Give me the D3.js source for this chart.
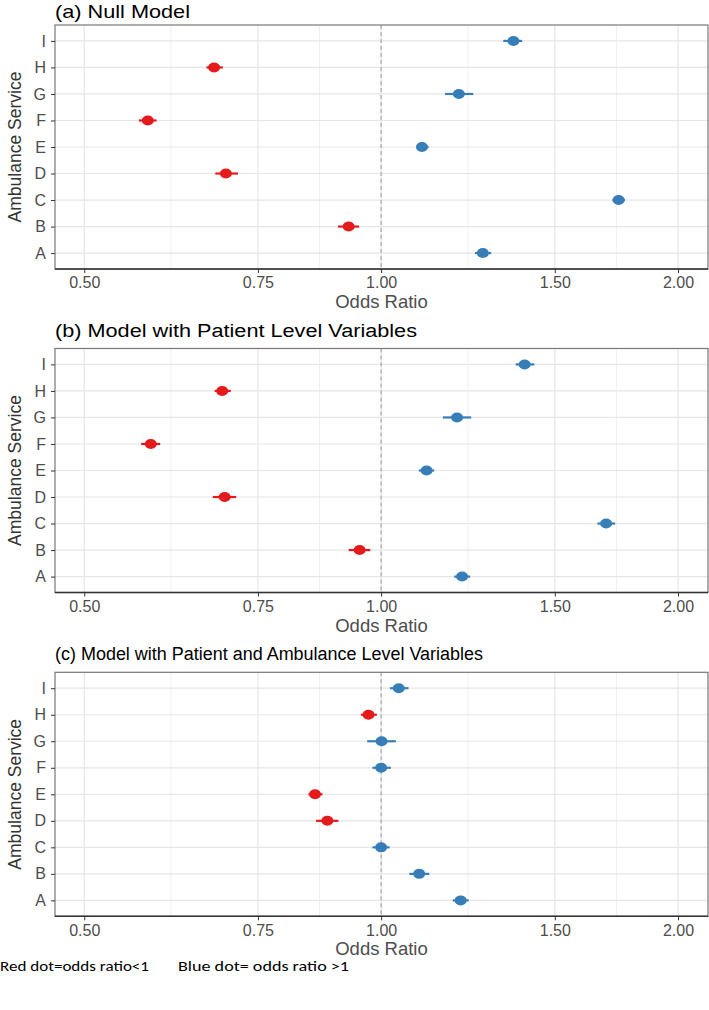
<!DOCTYPE html>
<html>
<head>
<meta charset="utf-8">
<script src="https://cdn.jsdelivr.net/npm/d3@7"></script>
<style>
  html, body { margin: 0; padding: 0; background: #fff; }
  svg { display: block; font-family: "Liberation Sans", Arial, sans-serif; }
</style>
</head>
<body>
<script>
// ---------------- data ----------------
const categories = ["A", "B", "C", "D", "E", "F", "G", "H", "I"];
const panelTitles = [
  "(a) Null Model",
  "(b) Model with Patient Level Variables",
  "(c) Model with Patient and Ambulance Level Variables"
];
const xTickValues = [0.5, 0.75, 1.0, 1.5, 2.0];
const xTickLabels = ["0.50", "0.75", "1.00", "1.50", "2.00"];
const xMinorValues = [0.612, 0.866, 1.225, 1.732];

// (a) Null model, ordered A..I
const nullOR = [1.268, 0.927, 1.741, 0.696, 1.100, 0.580, 1.199, 0.677, 1.362];
const nullLo = [1.245, 0.904, 1.716, 0.679, 1.087, 0.568, 1.161, 0.665, 1.330];
const nullHi = [1.293, 0.950, 1.767, 0.716, 1.117, 0.592, 1.240, 0.691, 1.390];

// (b) Patient level
const patientOR = [1.208, 0.951, 1.691, 0.694, 1.112, 0.584, 1.194, 0.690, 1.398];
const patientLo = [1.186, 0.927, 1.657, 0.675, 1.092, 0.571, 1.155, 0.678, 1.369];
const patientHi = [1.231, 0.975, 1.727, 0.713, 1.132, 0.597, 1.234, 0.704, 1.430];

// (c) Patient and ambulance level
const ambulanceOR = [1.204, 1.093, 1.000, 0.882, 0.857, 1.000, 1.001, 0.971, 1.042];
const ambulanceLo = [1.182, 1.068, 0.980, 0.859, 0.844, 0.980, 0.968, 0.954, 1.021];
const ambulanceHi = [1.227, 1.119, 1.020, 0.905, 0.872, 1.023, 1.035, 0.990, 1.066];

const footnoteLeft = "Red dot=odds ratio<1";
const footnoteRight = "Blue dot= odds ratio >1";

// ---------------- layout ----------------
const W = 709, H = 1010;
const left = 55, right = 708, panelH = 244;
const panelTops = [25, 348.5, 672.3];
const titleWidths = [135, 362, 428];
const titleSizes = [19, 18, 18];
const RED = "#E41A1C", BLUE = "#377EB8";

const panels = [
  { or: nullOR, lo: nullLo, hi: nullHi },
  { or: patientOR, lo: patientLo, hi: patientHi },
  { or: ambulanceOR, lo: ambulanceLo, hi: ambulanceHi }
];

const svg = d3.select("body").append("svg")
  .attr("width", W).attr("height", H)
  .attr("viewBox", `0 0 ${W} ${H}`);
svg.append("rect").attr("width", W).attr("height", H).attr("fill", "#fff");

const x = d3.scaleLog().domain([0.467, 2.145]).range([left, right]);

panels.forEach((p, pi) => {
  const top = panelTops[pi];
  const bottom = top + panelH;
  const y = d3.scalePoint().domain(categories).range([bottom, top]).padding(0.6);
  const rows = categories.map((c, i) => ({ cat: c, or: p.or[i], lo: p.lo[i], hi: p.hi[i] }));
  const g = svg.append("g");

  // title
  g.append("text")
    .attr("x", left).attr("y", pi === 0 ? 18 : top - 12)
    .attr("font-size", titleSizes[pi]).attr("fill", "#000")
    .attr("textLength", titleWidths[pi]).attr("lengthAdjust", "spacingAndGlyphs")
    .text(panelTitles[pi]);

  // minor grid
  g.selectAll(".minor").data(xMinorValues).join("line")
    .attr("x1", d => x(d)).attr("x2", d => x(d))
    .attr("y1", top).attr("y2", bottom)
    .attr("stroke", "#f0f0f0").attr("stroke-width", 1);
  // major grid vertical
  g.selectAll(".majorx").data(xTickValues).join("line")
    .attr("x1", d => x(d)).attr("x2", d => x(d))
    .attr("y1", top).attr("y2", bottom)
    .attr("stroke", "#e6e6e6").attr("stroke-width", 1.2);
  // major grid horizontal
  g.selectAll(".majory").data(categories).join("line")
    .attr("x1", left).attr("x2", right)
    .attr("y1", d => y(d)).attr("y2", d => y(d))
    .attr("stroke", "#e6e6e6").attr("stroke-width", 1.2);

  // reference line at 1
  g.append("line")
    .attr("x1", x(1)).attr("x2", x(1))
    .attr("y1", top).attr("y2", bottom)
    .attr("stroke", "#9a9a9a").attr("stroke-width", 1)
    .attr("stroke-dasharray", "4,3");

  // error bars
  g.selectAll(".err").data(rows).join("line")
    .attr("x1", d => x(d.lo)).attr("x2", d => x(d.hi))
    .attr("y1", d => y(d.cat)).attr("y2", d => y(d.cat))
    .attr("stroke", d => d.or < 1 ? RED : BLUE)
    .attr("stroke-width", 2.2);
  // points
  g.selectAll(".pt").data(rows).join("ellipse")
    .attr("cx", d => x(d.or)).attr("cy", d => y(d.cat))
    .attr("rx", 6).attr("ry", 5)
    .attr("fill", d => d.or < 1 ? RED : BLUE);

  // border
  g.append("rect")
    .attr("x", left).attr("y", top)
    .attr("width", right - left).attr("height", panelH)
    .attr("fill", "none").attr("stroke", "#777").attr("stroke-width", 1.2);
  g.append("line")
    .attr("x1", left).attr("x2", right).attr("y1", bottom).attr("y2", bottom)
    .attr("stroke", "#333").attr("stroke-width", 1.4);

  // x axis
  const ax = g.append("g").attr("transform", `translate(0,${bottom})`)
    .call(d3.axisBottom(x).tickValues(xTickValues)
      .tickFormat((d, i) => xTickLabels[i]).tickSize(4).tickPadding(4));
  ax.select(".domain").remove();
  ax.selectAll("line").attr("stroke", "#333");
  ax.selectAll("text").attr("font-size", 16).attr("fill", "#4d4d4d")
    .attr("font-family", "Liberation Sans, Arial, sans-serif");

  // y axis
  const ay = g.append("g").attr("transform", `translate(${left},0)`)
    .call(d3.axisLeft(y).tickSize(4).tickPadding(5));
  ay.select(".domain").remove();
  ay.selectAll("line").attr("stroke", "#333");
  ay.selectAll("text").attr("font-size", 16).attr("fill", "#4d4d4d")
    .attr("font-family", "Liberation Sans, Arial, sans-serif");

  // axis titles
  g.append("text")
    .attr("x", (left + right) / 2).attr("y", bottom + 39)
    .attr("text-anchor", "middle").attr("font-size", 18.5).attr("fill", "#4d4d4d")
    .text("Odds Ratio");
  g.append("text")
    .attr("transform", `translate(21,${(top + bottom) / 2}) rotate(-90)`)
    .attr("text-anchor", "middle").attr("font-size", 17.5).attr("fill", "#333")
    .text("Ambulance Service");
});

// footnote
svg.append("text").attr("x", 0).attr("y", 971)
  .attr("font-size", 15).attr("fill", "#000")
  .attr("font-family", "Carlito, 'Open Sans', 'Liberation Sans', sans-serif")
  .attr("textLength", 149).attr("lengthAdjust", "spacingAndGlyphs")
  .text(footnoteLeft);
svg.append("text").attr("x", 178).attr("y", 971)
  .attr("font-size", 15).attr("fill", "#000")
  .attr("font-family", "Carlito, 'Open Sans', 'Liberation Sans', sans-serif")
  .attr("textLength", 171).attr("lengthAdjust", "spacingAndGlyphs")
  .text(footnoteRight);
</script>
</body>
</html>
